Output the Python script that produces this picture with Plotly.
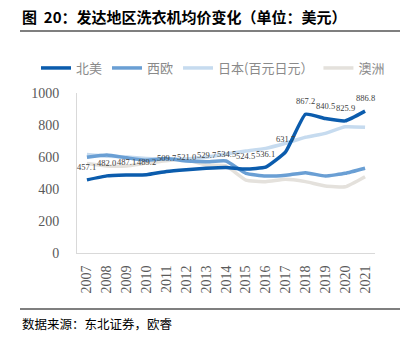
import plotly.graph_objects as go

years = [str(y) for y in range(2007, 2022)]
north_america = [457.1, 482.0, 487.1, 489.2, 509.7, 521.0, 529.7, 534.5, 524.5, 536.1, 631.7, 867.2, 840.5, 825.9, 886.8]
western_europe = [598, 612, 595, 580, 590, 575, 570, 575, 498, 481, 486, 502, 481, 498, 530]
japan = [615, 605, 600, 590, 585, 588, 598, 619, 637, 654, 686, 723, 748, 789, 786]
australia = [560, 544, 544, 562, 577, 585, 550, 544, 456, 446, 461, 446, 419, 414, 477]

series_names = ["北美", "西欧", "日本(百元日元）", "澳洲"]
series_values = [north_america, western_europe, japan, australia]
colors = ["#0b5cad", "#6a9fd4", "#c6dbef", "#e4e1dc"]

title_text = "图  20：发达地区洗衣机均价变化（单位：美元）"
source_text = "数据来源：东北证券，欧睿"

W, H = 411, 337
L, R, T, B = 77, 36, 93, 84
pw, ph = W - L - R, H - T - B

def px_x(p):
    return (p - L) / pw

def px_y(p):
    return (H - B - p) / ph

fig = go.Figure()
for i in [3, 2, 1, 0]:
    fig.add_trace(go.Scatter(
        x=years, y=series_values[i], name=series_names[i], mode="lines",
        line=dict(color=colors[i], width=3.5, shape="spline", smoothing=0.4),
        legendrank=i + 1,
    ))

serif = "Liberation Serif, Times New Roman, serif"
cjk = "Noto Sans CJK SC"

for idx, v in enumerate(north_america):
    fig.add_annotation(x=idx, y=v, text=f"{v:.1f}", showarrow=False, yshift=13,
                       font=dict(family=serif, size=8.5, color="#404040"))

fig.add_annotation(xref="paper", yref="paper", x=px_x(20), y=px_y(16), text="<b>" + title_text + "</b>",
                   showarrow=False, xanchor="left", yanchor="middle",
                   font=dict(family=cjk, size=15, color="#000000"))
fig.add_annotation(xref="paper", yref="paper", x=px_x(20), y=px_y(323), text=source_text,
                   showarrow=False, xanchor="left", yanchor="middle",
                   font=dict(family=cjk, size=12.5, color="#000000"))
fig.add_shape(type="line", xref="paper", yref="paper", x0=px_x(20), x1=px_x(400),
              y0=px_y(31), y1=px_y(31), line=dict(color="#7f7f7f", width=2))
fig.add_shape(type="line", xref="paper", yref="paper", x0=px_x(20), x1=px_x(400),
              y0=px_y(309), y1=px_y(309), line=dict(color="#000000", width=1.2))

fig.update_layout(
    width=W, height=H, margin=dict(l=L, r=R, t=T, b=B),
    paper_bgcolor="white", plot_bgcolor="white",
    showlegend=True,
    legend=dict(orientation="h", x=px_x(36), xanchor="left", y=px_y(68), yanchor="middle",
                font=dict(family=cjk, size=13, color="#8a8a8a"), bgcolor="rgba(0,0,0,0)",
                itemwidth=30, tracegroupgap=0),
    xaxis=dict(type="category", range=[-0.5, len(years) - 0.5], showgrid=False, showline=True,
               linecolor="#d9d9d9", linewidth=1,
               tickangle=-90, ticks="", ticklabelstandoff=6,
               tickfont=dict(family=serif, size=14, color="#595959"), fixedrange=True),
    yaxis=dict(range=[0, 1000], dtick=200, showgrid=False, showline=True, linecolor="#d9d9d9",
               linewidth=1, ticks="", ticklabelstandoff=14, zeroline=False,
               tickfont=dict(family=serif, size=14, color="#595959"), fixedrange=True),
)

fig.write_html("out.html", config={"displayModeBar": False})
